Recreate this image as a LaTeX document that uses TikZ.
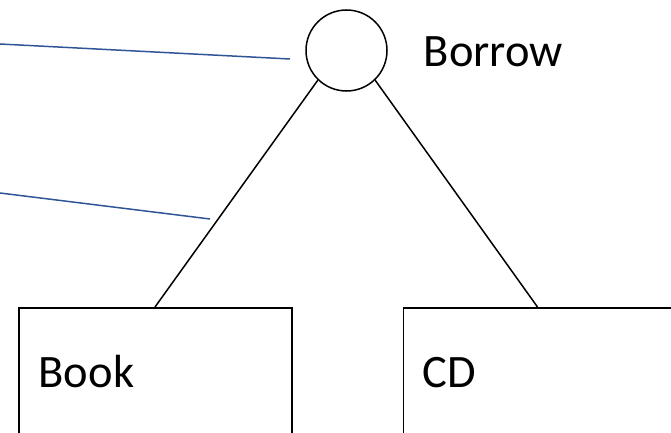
\documentclass[tikz,border=0pt]{standalone}
\usepackage{fontspec}
\setmainfont{Carlito}
\definecolor{linkblue}{RGB}{47,85,151}
\begin{document}
\begin{tikzpicture}[x=1pt,y=-1pt,
  blk/.style={draw=black,line width=1.5pt},
  bl/.style={draw=linkblue,line width=1.5pt},
  lbl/.style={inner sep=0pt,anchor=base west,font=\fontsize{46.5}{56}\selectfont},
  entity/.style={blk,rectangle,anchor=north west,inner sep=0pt,minimum width=273pt,minimum height=200pt}]
\useasboundingbox (0,0) rectangle (671,433);
\clip (0,0) rectangle (671,433);
\node[blk,circle,minimum size=81pt,inner sep=0pt] (borrow) at (346.5,50.5) {};
\node[lbl] (borrowtext) at (423.5,66.7) {Borrow};
\node[lbl] (booktext) at (38.5,387) {Book};
\node[lbl] (cdtext) at (422.5,387) {CD};
\node[entity] (book) at (18,307) {};
\node[entity] (cd) at (402.5,307) {};
\coordinate (booktop) at (155,307);
\coordinate (cdtop) at (537.5,307);
\draw[blk] (borrow.226) -- (booktop);
\draw[blk] (borrow.-46) -- (cdtop);
\coordinate (a1) at (0,44);
\coordinate (a2) at (290,59);
\coordinate (b1) at (0,193);
\coordinate (b2) at (210,219);
\draw[bl] (a1) -- (a2);
\draw[bl] (b1) -- (b2);
\end{tikzpicture}
\end{document}
